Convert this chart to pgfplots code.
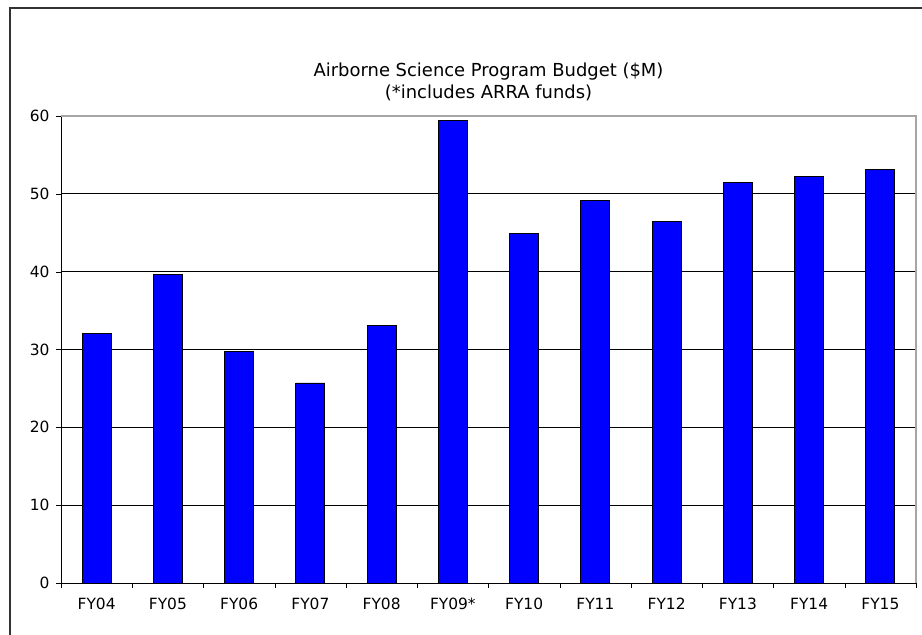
\documentclass[border=0pt]{standalone}
\usepackage{pgfplots}
\pgfplotsset{compat=1.18}
\usepackage{fontspec}
\setmainfont{DejaVu Sans}
\definecolor{barblue}{RGB}{0,0,255}
\begin{document}
\begin{tikzpicture}[x=1bp,y=1bp]
\useasboundingbox (0,0) rectangle (922,635);
\fill[white] (0,0) rectangle (922,635);
\draw[line width=1.2bp, black!80] (10,0) -- (10,627) -- (922,627);
\node[align=center, font=\fontsize{18}{22}\selectfont, inner sep=0pt] at (488.5,553) {Airborne Science Program Budget (\$M)\\(*includes ARRA funds)};
\begin{axis}[
  at={(61bp,52bp)}, anchor=south west,
  scale only axis, width=855bp, height=467bp,
  xmin=-0.5, xmax=11.5, ymin=0, ymax=60,
  ytick={0,10,...,60},
  xtick={0,...,11},
  xticklabels={FY04,FY05,FY06,FY07,FY08,FY09*,FY10,FY11,FY12,FY13,FY14,FY15},
  minor xtick={-0.5,0.5,...,11.5},
  major x tick style={draw=none},
  minor x tick style={black},
  y tick style={black},
  tick align=outside,
  major tick length=5bp, minor tick length=5bp,
  ymajorgrids, grid style={black, line width=0.9bp},
  axis x line*=bottom, axis y line*=left,
  axis line style={-, black, line width=0.9bp},
  ticklabel style={font=\fontsize{15.5}{18}\selectfont},
  /pgf/number format/assume math mode=true,
  xticklabel style={yshift=-7bp},
  yticklabel style={xshift=-3bp},
  clip=false,
]
\draw[gray!70, line width=1.2bp] (rel axis cs:0,1) -- (rel axis cs:1,1) -- (rel axis cs:1,0);
\addplot[ybar, bar width=29bp, fill=barblue, draw=black, line width=0.9bp] coordinates {
(0,32.1) (1,39.6) (2,29.7) (3,25.7) (4,33.1) (5,59.4)
(6,44.9) (7,49.1) (8,46.4) (9,51.5) (10,52.2) (11,53.1)
};
\end{axis}
\end{tikzpicture}
\end{document}
